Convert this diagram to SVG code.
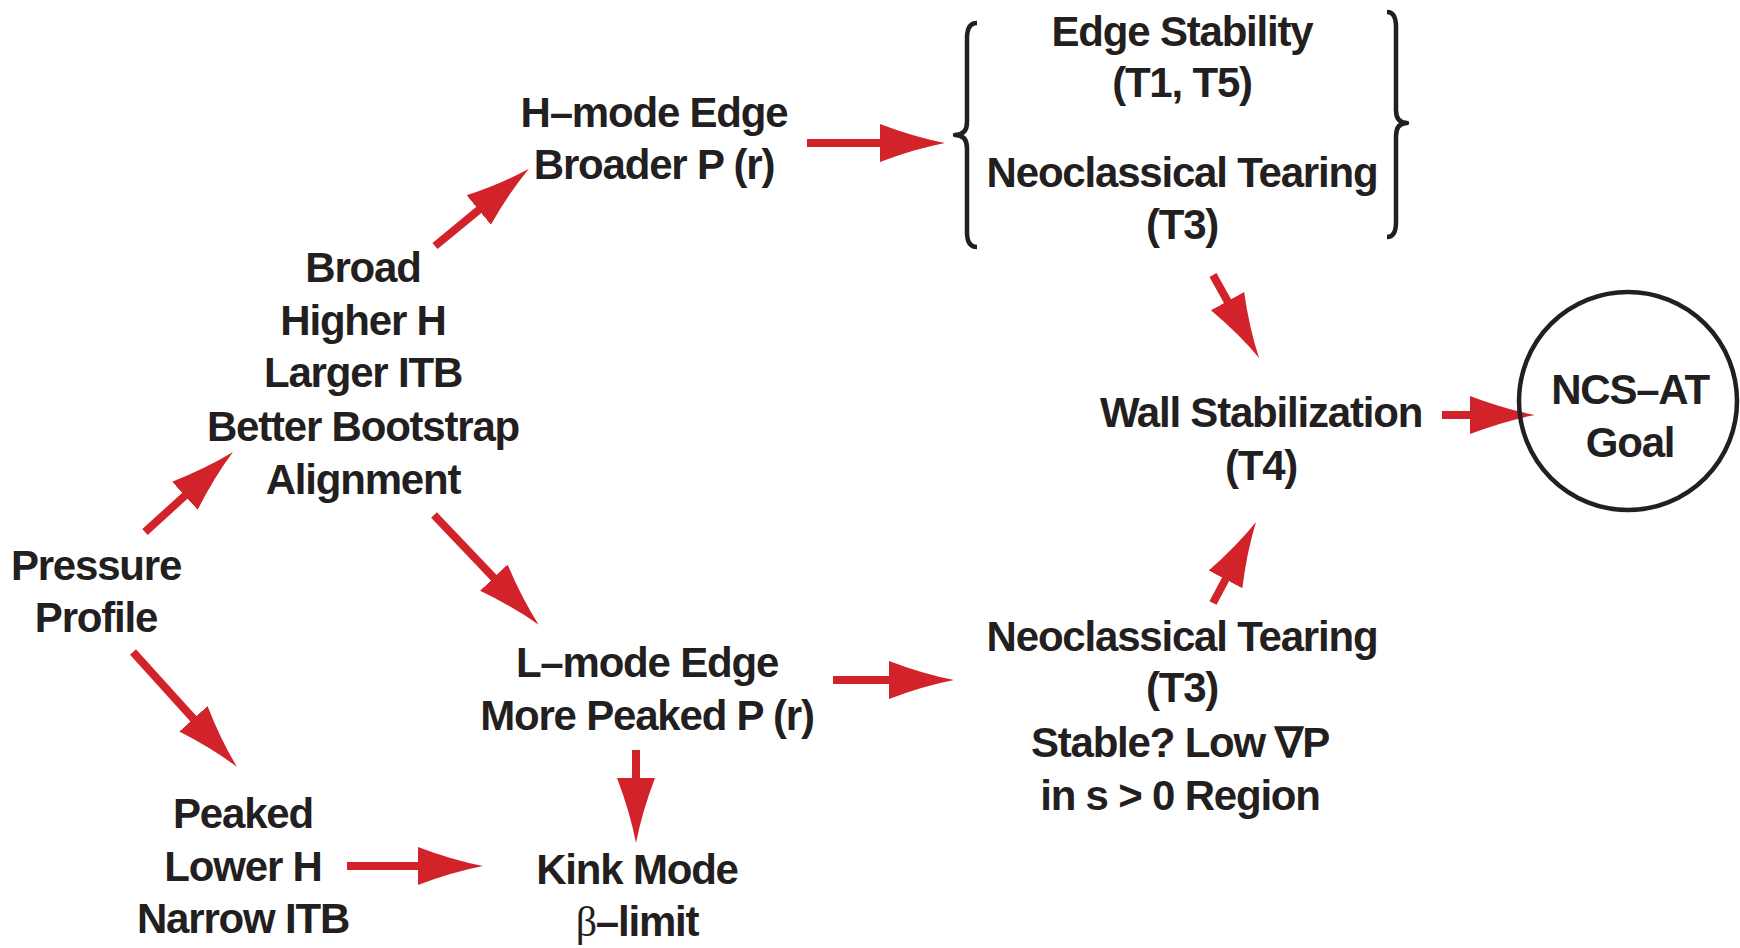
<svg xmlns="http://www.w3.org/2000/svg" width="1740" height="948" viewBox="0 0 1740 948">
<style>
text{font-family:"Liberation Sans",Arial,sans-serif;font-weight:bold;font-size:42px;letter-spacing:-1.2px;fill:#231f20;text-anchor:middle}
.sym{font-family:"Liberation Serif","Times New Roman",serif;font-weight:normal}
.arr{stroke:#d2232a;stroke-width:8;fill:none;marker-end:url(#head)}
.br{stroke:#231f20;stroke-width:4.5;fill:none;stroke-linejoin:round}
</style>
<defs>
<marker id="head" markerUnits="userSpaceOnUse" markerWidth="66" markerHeight="42" viewBox="0 0 66 42" refX="1" refY="21" orient="auto">
<path d="M0,2 Q34,15 65,21 Q34,27 0,40 Z" fill="#d2232a"/>
</marker>
</defs>
<rect width="1740" height="948" fill="#fff"/>
<g id="connectors">
<line class="arr" x1="145" y1="532" x2="185.6" y2="495.1"/>
<line class="arr" x1="133" y1="652" x2="194.1" y2="719.5"/>
<line class="arr" x1="435" y1="246" x2="479.5" y2="209.4"/>
<line class="arr" x1="807" y1="143" x2="881" y2="143"/>
<line class="arr" x1="434" y1="515" x2="494.5" y2="578.4"/>
<line class="arr" x1="833" y1="680" x2="890" y2="680"/>
<line class="arr" x1="636" y1="750" x2="636" y2="779"/>
<line class="arr" x1="347" y1="866" x2="419" y2="866"/>
<line class="arr" x1="1213" y1="275" x2="1228" y2="302"/>
<line class="arr" x1="1213" y1="603" x2="1226" y2="578.5"/>
<line class="arr" x1="1442" y1="415" x2="1471" y2="415"/>
</g>
<g id="pressure"><text x="96" y="580">Pressure</text><text x="96" y="632">Profile</text></g>
<g id="broad"><text x="363" y="282">Broad</text><text x="363" y="335">Higher H</text><text x="363" y="387">Larger ITB</text><text x="363" y="441">Better Bootstrap</text><text x="363" y="494">Alignment</text></g>
<g id="peaked"><text x="243" y="828">Peaked</text><text x="243" y="881">Lower H</text><text x="243" y="933">Narrow ITB</text></g>
<g id="hmode"><text x="654" y="127">H–mode Edge</text><text x="654" y="179">Broader P (r)</text></g>
<g id="lmode"><text x="647" y="677">L–mode Edge</text><text x="647" y="730">More Peaked P (r)</text></g>
<g id="kink"><text x="637" y="884">Kink Mode</text><text x="637" y="936"><tspan class="sym">β</tspan>–limit</text></g>
<g id="bracket">
<path class="br" d="M977,23 Q967,23 967,38 L967,122 Q967,135 955,135 Q967,135 967,148 L967,232 Q967,247 977,247"/>
<path class="br" d="M1387,12 Q1396,12 1396,27 L1396,110 Q1396,123 1407,123 Q1396,123 1396,136 L1396,222 Q1396,237 1387,237"/>
<text x="1182" y="46">Edge Stability</text><text x="1182" y="97">(T1, T5)</text><text x="1182" y="187">Neoclassical Tearing</text><text x="1182" y="239">(T3)</text>
</g>
<g id="neo"><text x="1182" y="651">Neoclassical Tearing</text><text x="1182" y="702">(T3)</text><text x="1180" y="757">Stable? Low ∇P</text><text x="1180" y="810">in s &gt; 0 Region</text></g>
<g id="wall"><text x="1261" y="427">Wall Stabilization</text><text x="1261" y="480">(T4)</text></g>
<g id="goal"><circle cx="1628" cy="401" r="109" fill="none" stroke="#231f20" stroke-width="4.5"/><text x="1630" y="404">NCS–AT</text><text x="1630" y="457">Goal</text></g>
</svg>
